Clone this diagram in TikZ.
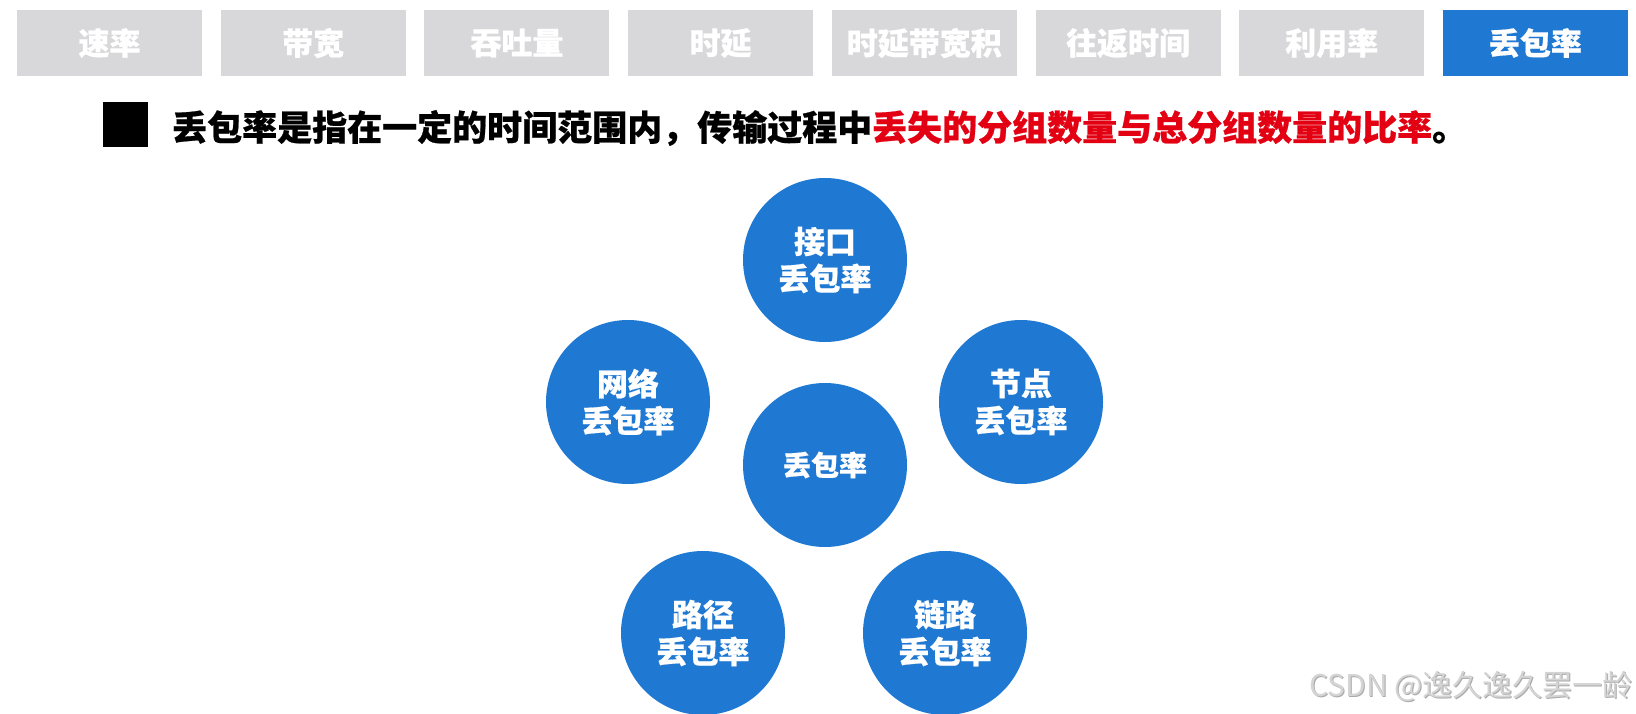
\documentclass[tikz,border=0pt]{standalone}
\usepackage{fontspec}
\setmainfont{Noto Sans CJK SC}[BoldFeatures={FakeBold=0.6}]
\definecolor{tabgray}{RGB}{216,216,218}
\definecolor{cblue}{RGB}{31,120,210}
\definecolor{hred}{RGB}{226,0,18}
\definecolor{wmark}{RGB}{212,212,212}
\definecolor{wshadow}{RGB}{170,170,170}
\begin{document}
\begin{tikzpicture}[x=1pt,y=-1pt,
  tabbox/.style={fill=tabgray, minimum width=185pt, minimum height=66pt, inner sep=0pt,
    text=white, font=\fontsize{31}{36}\selectfont\bfseries},
  tabon/.style={tabbox, fill=cblue},
  bubble/.style={circle, fill=cblue, minimum size=164pt, inner sep=0pt, text=white,
    align=center, font=\fontsize{31}{37}\selectfont\bfseries},
  headtext/.style={anchor=west, inner sep=0pt, font=\fontsize{35}{42}\selectfont\bfseries},
  wm/.style={anchor=east, inner sep=0pt, font=\fontsize{30}{36}\selectfont},
]
\fill[white] (0,0) rectangle (1636,714);
\clip (0,0) rectangle (1636,714);
\useasboundingbox (0,0) rectangle (1636,714);

% tabs
\node[tabbox] (t1) at (109.5,43) {速率};
\node[tabbox] (t2) at (313.2,43) {带宽};
\node[tabbox] (t3) at (516.9,43) {吞吐量};
\node[tabbox] (t4) at (720.6,43) {时延};
\node[tabbox] (t5) at (924.3,43) {时延带宽积};
\node[tabbox] (t6) at (1128.0,43) {往返时间};
\node[tabbox] (t7) at (1331.7,43) {利用率};
\node[tabon]  (t8) at (1535.4,43) {丢包率};

% heading
\node[fill=black, minimum size=45pt, inner sep=0pt] (sq) at (125.5,125) {};
\node[headtext] (head) at (172,128) {丢包率是指在一定的时间范围内，传输过程中\textcolor{hred}{丢失的分组数量与总分组数量的比率}。};

% circles
\node[bubble] (top)  at (825,260) {接口\\丢包率};
\node[bubble] (net)  at (628,402) {网络\\丢包率};
\node[bubble] (nod)  at (1021,402) {节点\\丢包率};
\node[bubble, font=\fontsize{28}{34}\selectfont\bfseries] (mid) at (825,465) {丢包率};
\node[bubble] (pth)  at (703,633) {路径\\丢包率};
\node[bubble] (lnk)  at (945,633) {链路\\丢包率};

% watermark
\node[wm, text=wshadow] (wms) at (1634,687) {CSDN @逸久逸久罢一龄};
\node[wm, text=wmark] (wmk) at (1633,686) {CSDN @逸久逸久罢一龄};
\end{tikzpicture}
\end{document}
